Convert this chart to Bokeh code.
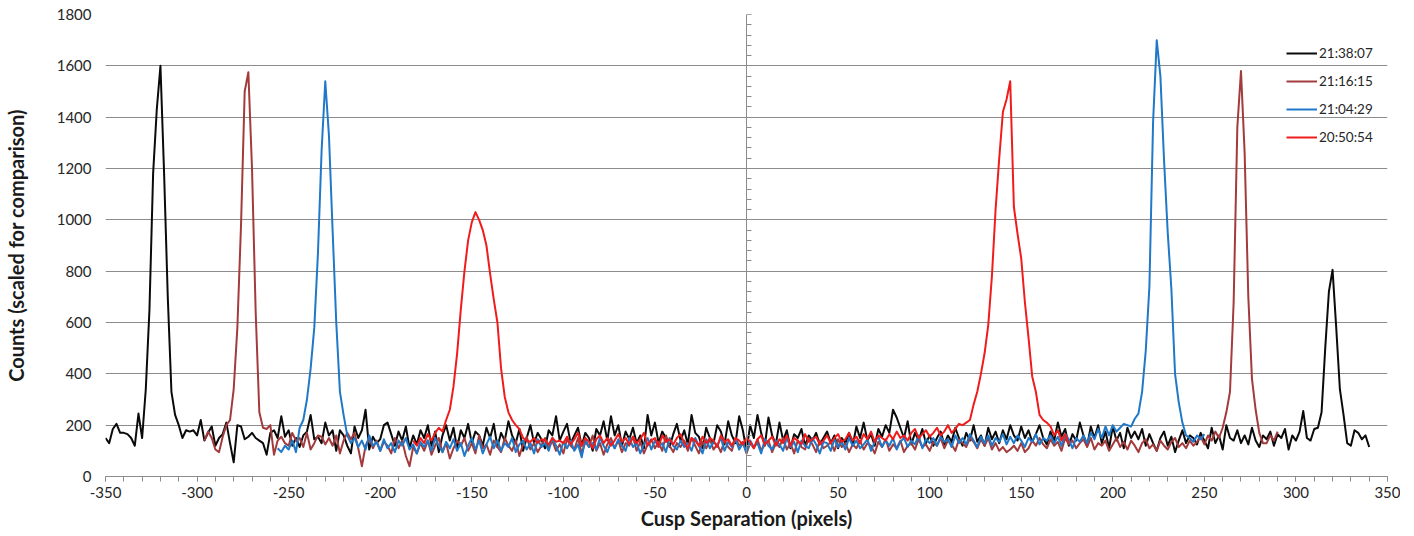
from bokeh.plotting import figure
from bokeh.models import Range1d, LinearAxis, SingleIntervalTicker, Legend, LegendItem
from bokeh.embed import file_html
from bokeh.resources import INLINE

# ---------------- data ----------------
series_names = ["21:38:07", "21:16:15", "21:04:29", "20:50:54"]
series_colors = ["#0a0a0a", "#a33a3c", "#1f78c8", "#f01c1c"]
x_step = 2

x_ticks = list(range(-350, 351, 50))
y_ticks = list(range(0, 1801, 200))

black_start = -350
black_y = [
    150, 130, 185, 205, 170, 170, 165, 150, 120, 245,
    150, 340, 650, 1180, 1430, 1600, 1180, 700, 330, 240,
    200, 150, 180, 175, 180, 160, 220, 140, 170, 195,
    120, 150, 165, 210, 130, 55, 200, 195, 145, 155,
    170, 150, 140, 130, 85, 170, 180, 150, 235, 155,
    180, 120, 150, 115, 160, 175, 240, 145, 155, 130,
    210, 160, 180, 100, 180, 160, 120, 90, 195, 150,
    180, 260, 105, 155, 130, 145, 200, 210, 165, 120,
    175, 140, 195, 110, 160, 125, 180, 150, 200, 120,
    175, 95, 160, 200, 140, 190, 110, 180, 150, 205,
    130, 175, 160, 120, 190, 150, 205, 115, 170, 140,
    215, 160, 130, 185, 100, 150, 200, 130, 170, 145,
    110, 180, 160, 235, 140, 175, 205, 130, 160, 190,
    120, 170, 150, 100, 185, 160, 215, 140, 235, 160,
    200, 120, 175, 145, 190, 130, 160, 110, 240, 160,
    210, 130, 175, 150, 115, 165, 205, 140, 180, 125,
    240, 170, 155, 110, 190, 150, 130, 200, 175, 125,
    215, 160, 130, 235, 180, 100, 200, 150, 240, 170,
    120, 230, 160, 125, 210, 140, 180, 110, 165, 150,
    185, 120, 160, 140, 170, 125, 150, 175, 130, 160,
    110, 150, 130, 170, 120, 195, 150, 210, 140, 165,
    120, 185, 155, 200, 170, 260, 230, 190, 150, 215,
    125, 170, 140, 185, 130, 160, 120, 150, 175, 125,
    160, 135, 190, 150, 120, 170, 140, 200, 135, 160,
    120, 190, 145, 175, 130, 180, 145, 200, 160, 140,
    195, 150, 180, 135, 165, 200, 150, 125, 175, 140,
    210, 155, 185, 120, 165, 140, 210, 160, 120, 195,
    150, 200, 130, 175, 110, 195, 140, 170, 110, 190,
    150, 175, 145, 185, 120, 165, 130, 100, 150, 175,
    120, 155, 95, 140, 180, 130, 160, 150, 125, 170,
    140, 110, 190, 130, 160, 105, 200, 150, 140, 180,
    130, 160, 125, 190, 140, 115, 160, 145, 175, 120,
    165, 150, 185, 105, 160, 140, 175, 255, 150, 140,
    185, 190, 250, 500, 720, 805, 580, 340, 240, 130,
    120, 180, 170, 145, 160, 115,
]

brown_start = -296
brown_y = [
    140, 175, 150, 105, 95, 155, 200, 220, 340, 580,
    980, 1500, 1575, 1200, 640, 250, 190, 185, 200, 85,
    140, 155, 130, 120, 170, 140, 150, 115, 170, 105,
    130, 160, 155, 125, 150, 120, 160, 90, 140, 170,
    145, 170, 110, 40, 120, 150, 110, 140, 100, 135,
    120, 90, 150, 110, 140, 80, 40, 115, 90, 130,
    100, 140, 85, 120, 150, 95, 130, 70, 110, 140,
    120, 150, 100, 130, 90, 160, 110, 125, 85, 140,
    115, 95, 150, 120, 100, 140, 80, 125, 155, 105,
    130, 95, 120, 150, 110, 140, 100, 125, 90, 145,
    120, 105, 150, 90, 135, 115, 160, 100, 130, 85,
    125, 150, 110, 140, 95, 130, 120, 155, 100, 135,
    90, 125, 145, 110, 135, 100, 160, 120, 95, 130,
    115, 140, 100, 150, 120, 90, 135, 110, 145, 105,
    125, 95, 140, 115, 100, 150, 120, 135, 90, 130,
    110, 145, 100, 125, 140, 95, 130, 115, 150, 105,
    130, 90, 140, 115, 105, 150, 125, 95, 140, 110,
    120, 135, 100, 145, 115, 130, 95, 125, 110, 140,
    105, 130, 120, 90, 135, 115, 145, 100, 125, 110,
    140, 95, 120, 130, 105, 145, 115, 125, 100, 135,
    120, 150, 110, 140, 125, 100, 145, 130, 115, 150,
    135, 110, 145, 120, 150, 105, 130, 100, 115, 95,
    105, 120, 100, 130, 95, 110, 140, 120, 150, 125,
    110, 145, 120, 135, 100, 150, 125, 140, 110, 130,
    145, 115, 150, 105, 130, 120, 140, 100, 125, 150,
    115, 135, 105, 140, 120, 95, 130, 145, 110, 125,
    100, 140, 120, 105, 135, 150, 115, 130, 110, 140,
    120, 135, 155, 125, 160, 140, 175, 150, 190, 250,
    330, 680, 1360, 1580, 1260, 700, 380, 260, 170, 130,
    130, 160, 140, 175,
]

blue_start = -256
blue_y = [
    110, 95, 120, 105, 140, 95, 190, 220, 300, 420,
    580, 870, 1270, 1540, 1330, 960, 600, 330, 240, 160,
    130, 150, 115, 140, 105, 160, 120, 135, 100, 145,
    110, 130, 95, 140, 120, 150, 105, 125, 90, 135,
    115, 140, 100, 150, 120, 95, 135, 110, 145, 100,
    130, 80, 120, 150, 105, 140, 90, 125, 155, 110,
    140, 100, 130, 115, 150, 95, 125, 140, 105, 130,
    90, 145, 115, 130, 100, 150, 120, 85, 135, 110,
    140, 100, 125, 75, 145, 115, 130, 105, 150, 120,
    95, 135, 110, 145, 120, 100, 150, 115, 130, 90,
    125, 150, 105, 140, 115, 130, 95, 150, 120, 105,
    140, 115, 130, 100, 150, 120, 90, 145, 110, 135,
    120, 150, 100, 135, 115, 145, 105, 130, 95, 140,
    115, 130, 90, 145, 120, 105, 140, 125, 100, 150,
    115, 135, 95, 140, 120, 110, 150, 125, 90, 135,
    130, 100, 145, 115, 135, 105, 150, 120, 140, 110,
    125, 145, 100, 135, 155, 115, 140, 120, 150, 105,
    135, 150, 115, 140, 125, 160, 110, 145, 130, 150,
    120, 155, 135, 145, 115, 160, 130, 150, 125, 165,
    140, 115, 155, 130, 160, 120, 150, 135, 165, 125,
    155, 130, 160, 140, 115, 150, 135, 165, 125, 150,
    140, 160, 130, 155, 120, 165, 145, 110, 150, 135,
    160, 130, 170, 145, 185, 150, 195, 160, 200, 175,
    190, 205, 200, 195, 225, 245, 330, 490, 740, 1380,
    1700, 1560, 1230, 950, 730, 400, 290, 210, 160, 150,
    135, 160, 145, 165,
]

red_start = -182
red_y = [
    140, 120, 150, 130, 165, 140, 170, 190, 175, 220,
    260, 350, 480, 650, 800, 920, 990, 1030, 1000, 960,
    900, 790, 690, 600, 420, 310, 250, 220, 200, 185,
    150, 140, 135, 150, 130, 145, 140, 125, 150, 135,
    140, 130, 155, 125, 145, 170, 120, 150, 135, 110,
    145, 160, 130, 150, 120, 140, 165, 135, 150, 125,
    155, 130, 145, 170, 120, 140, 150, 115, 160, 135,
    145, 125, 150, 165, 130, 110, 150, 140, 120, 155,
    130, 150, 140, 115, 160, 135, 145, 120, 150, 140,
    125, 150, 135, 110, 145, 160, 125, 140, 155, 120,
    145, 130, 160, 120, 150, 140, 125, 165, 135, 145,
    155, 125, 140, 160, 130, 150, 165, 135, 145, 170,
    140, 155, 130, 165, 145, 175, 135, 160, 150, 140,
    165, 145, 175, 150, 160, 140, 170, 185, 150, 165,
    180, 155, 170, 190, 160, 175, 200, 170, 185, 205,
    200, 210, 220, 280, 330, 400, 480, 590, 780, 1040,
    1240, 1420, 1470, 1540, 1050, 945, 850, 680, 540, 390,
    330, 240, 220, 210, 195, 160, 180, 140, 165, 130,
]

series_starts = [black_start, brown_start, blue_start, red_start]
series_values = [black_y, brown_y, blue_y, red_y]

# ---------------- styling ----------------
FONT = "Lato"
GRID = "#8c8c8c"
TEXT = "#262626"

p = figure(width=1400, height=534,
           x_range=Range1d(-350, 350), y_range=Range1d(0, 1800),
           output_backend="svg", toolbar_location=None,
           min_border_left=105, min_border_right=13,
           min_border_top=14, min_border_bottom=58)
p.outline_line_color = None
p.background_fill_color = "white"
p.border_fill_color = "white"

# x axis
xa = p.xaxis[0]
xa.ticker = SingleIntervalTicker(interval=50, num_minor_ticks=5)
xa.major_label_overrides = {t: str(t) for t in x_ticks}
xa.axis_line_color = GRID
xa.major_tick_line_color = GRID
xa.minor_tick_line_color = GRID
xa.major_tick_in = 0
xa.major_tick_out = 5
xa.minor_tick_in = 0
xa.minor_tick_out = 5
xa.major_label_standoff = 5
xa.major_label_text_font = FONT
xa.major_label_text_font_size = "15px"
xa.major_label_text_color = TEXT
xa.axis_label = "Cusp Separation (pixels)"
xa.axis_label_text_font = FONT
xa.axis_label_text_font_style = "bold"
xa.axis_label_text_font_size = "20px"
xa.axis_label_text_color = "#1a1a1a"
xa.axis_label_standoff = 5

# left y axis: labels only
ya = p.yaxis[0]
ya.ticker = SingleIntervalTicker(interval=200, num_minor_ticks=0)
ya.axis_line_color = None
ya.major_tick_line_color = None
ya.minor_tick_line_color = None
ya.major_tick_in = 0
ya.major_tick_out = 0
ya.major_label_standoff = 14
ya.major_label_text_font = FONT
ya.major_label_text_font_size = "15px"
ya.major_label_text_color = TEXT
ya.axis_label = "Counts (scaled for comparison)"
ya.axis_label_text_font = FONT
ya.axis_label_text_font_style = "bold"
ya.axis_label_text_font_size = "20px"
ya.axis_label_text_color = "#1a1a1a"
ya.axis_label_standoff = 26

# vertical axis line crossing at x = 0
ca = LinearAxis(fixed_location=0,
                ticker=SingleIntervalTicker(interval=200, num_minor_ticks=5),
                axis_line_color=GRID, major_tick_line_color=GRID,
                minor_tick_line_color=GRID,
                major_tick_in=0, major_tick_out=5,
                minor_tick_in=0, minor_tick_out=5,
                major_label_text_alpha=0, major_label_text_font_size="1px",
                major_label_standoff=0)
p.add_layout(ca, "right")

p.xgrid.visible = False
p.ygrid.ticker = SingleIntervalTicker(interval=200)
p.ygrid.grid_line_color = GRID
p.ygrid.grid_line_width = 1

items = []
for name, color, start, ys in zip(series_names, series_colors, series_starts, series_values):
    xs = [start + x_step * i for i in range(len(ys))]
    r = p.line(xs, ys, line_color=color, line_width=2, line_join="round")
    items.append(LegendItem(label=name, renderers=[r]))

legend = Legend(items=items, location=(1181, 329),
                padding=0, margin=0, spacing=8,
                glyph_width=31, glyph_height=20, label_height=20,
                label_standoff=2,
                label_text_font=FONT, label_text_font_size="13.5px",
                label_text_color=TEXT,
                background_fill_alpha=0, border_line_color=None)
p.add_layout(legend)

open("out.html", "w").write(file_html(p, INLINE))
